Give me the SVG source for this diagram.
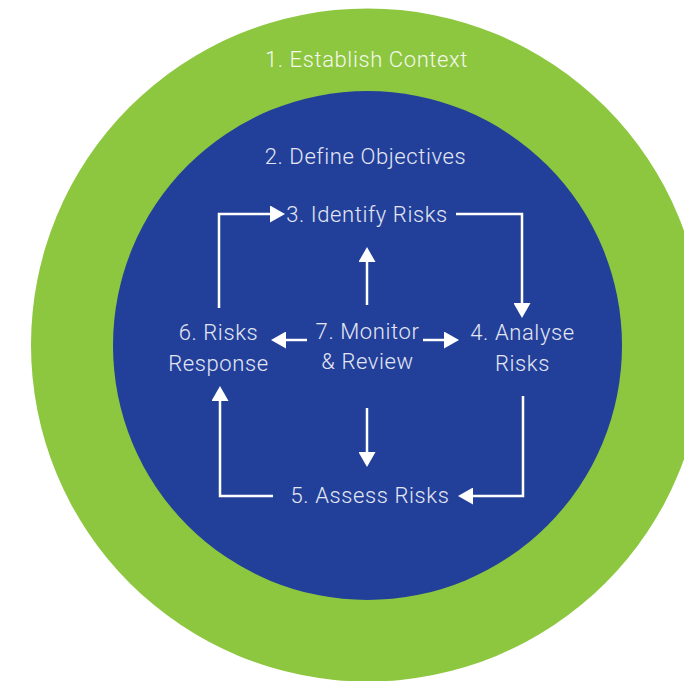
<svg xmlns="http://www.w3.org/2000/svg" width="684" height="681" viewBox="0 0 684 681">
  <style>
    .lbl { font-family: "Roboto", "Liberation Sans", sans-serif; font-weight: 300; font-size: 22px; letter-spacing: 0.6px; text-anchor: middle; }
    .onblue { fill: #E4E7F3; }
    .ongreen { fill: #F4F8EC; }
    .conn { fill: none; stroke: #FFFFFF; stroke-width: 2.5; }
  </style>
  <defs>
    <marker id="head" markerUnits="userSpaceOnUse" markerWidth="15" markerHeight="17" refX="0" refY="8.5" orient="auto" viewBox="0 0 15 17">
      <path d="M0,0 L15,8.5 L0,17 Z" fill="#FFFFFF"/>
    </marker>
  </defs>

  <rect width="684" height="681" fill="#FFFFFF"/>

  <!-- outer ring: context -->
  <g id="establish-context">
    <circle cx="367.5" cy="345" r="336.5" fill="#8DC63F"/>
    <text class="lbl ongreen" x="366.5" y="67">1. Establish Context</text>
  </g>

  <!-- inner disc: objectives -->
  <g id="define-objectives">
    <circle cx="367.5" cy="345.5" r="254.5" fill="#22409A"/>
    <text class="lbl onblue" x="365.5" y="164">2. Define Objectives</text>
  </g>

  <g id="identify-risks">
    <text class="lbl onblue" x="367" y="222">3. Identify Risks</text>
  </g>

  <g id="analyse-risks">
    <text class="lbl onblue" x="522.5" y="340">4. Analyse</text>
    <text class="lbl onblue" x="522.5" y="371">Risks</text>
  </g>

  <g id="assess-risks">
    <text class="lbl onblue" x="370" y="502.5">5. Assess Risks</text>
  </g>

  <g id="risks-response">
    <text class="lbl onblue" x="218.5" y="340">6. Risks</text>
    <text class="lbl onblue" x="218.5" y="371">Response</text>
  </g>

  <g id="monitor-review">
    <text class="lbl onblue" x="367.5" y="339">7. Monitor</text>
    <text class="lbl onblue" x="367.5" y="369">&amp; Review</text>
  </g>

  <!-- connectors -->
  <g id="connectors">
    <!-- response -> identify -->
    <polyline class="conn" points="219,308 219,214 270,214" marker-end="url(#head)"/>
    <!-- identify -> analyse -->
    <polyline class="conn" points="456,214 522,214 522,303" marker-end="url(#head)"/>
    <!-- analyse -> assess -->
    <polyline class="conn" points="523,396 523,496 473,496" marker-end="url(#head)"/>
    <!-- assess -> response -->
    <polyline class="conn" points="273,496 220,496 220,401" marker-end="url(#head)"/>
    <!-- monitor hub -->
    <line class="conn" x1="367" y1="305" x2="367" y2="262" marker-end="url(#head)"/>
    <line class="conn" x1="367" y1="408" x2="367" y2="452" marker-end="url(#head)"/>
    <line class="conn" x1="307" y1="340" x2="286" y2="340" marker-end="url(#head)"/>
    <line class="conn" x1="423" y1="340" x2="444" y2="340" marker-end="url(#head)"/>
  </g>
</svg>
